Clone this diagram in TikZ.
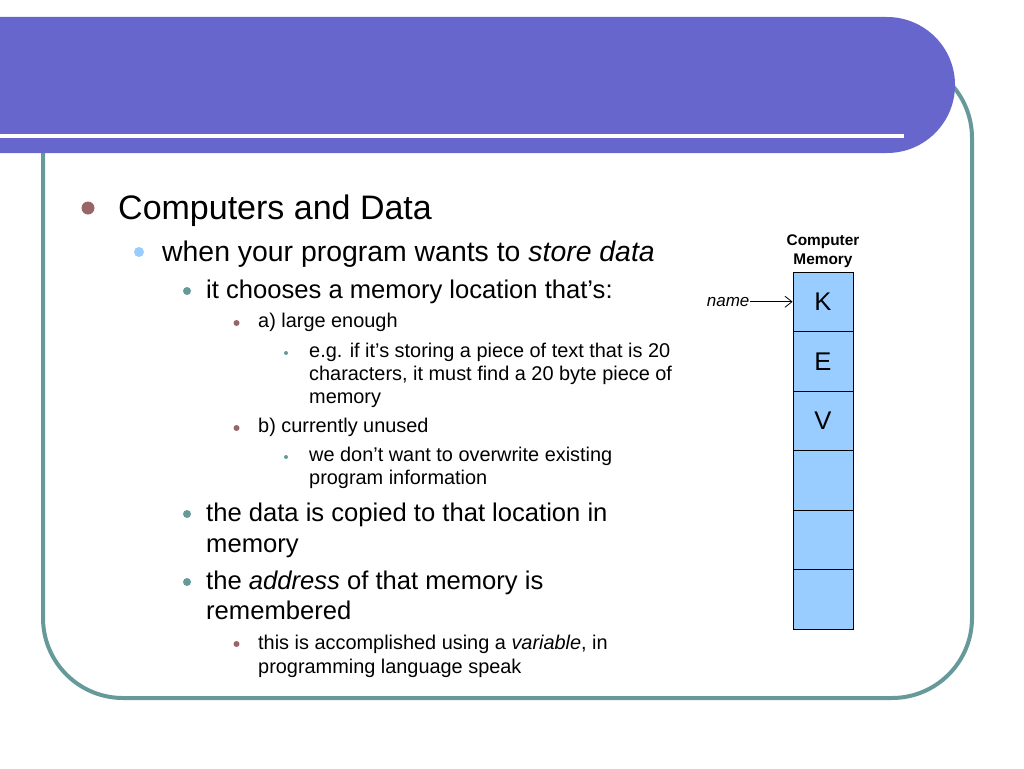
\documentclass[tikz,border=0pt]{standalone}
\usepackage{fontspec}
\setmainfont{Liberation Sans}
\usetikzlibrary{positioning,arrows.meta}
\definecolor{bannerblue}{HTML}{6666CC}
\definecolor{frameteal}{HTML}{669999}
\definecolor{dotbrown}{HTML}{996666}
\definecolor{cellblue}{HTML}{99CCFF}
\tikzset{
  lvlone/.style={anchor=base west,inner sep=0pt,font=\fontsize{34}{40}\selectfont},
  lvltwo/.style={anchor=base west,inner sep=0pt,font=\fontsize{28.4}{34}\selectfont},
  lvlthree/.style={anchor=base west,inner sep=0pt,font=\fontsize{25.6}{31}\selectfont},
  lvlfour/.style={anchor=base west,inner sep=0pt,font=\fontsize{19.9}{24}\selectfont},
  memcell/.style={draw=black,fill=cellblue,line width=0.8pt,minimum width=60pt,
    minimum height=59.5pt,inner sep=0pt,font=\fontsize{25.6}{30}\selectfont}
}
\begin{document}
\begin{tikzpicture}[x=1pt,y=-1pt]
\useasboundingbox (0,0) rectangle (1024,768);
\draw[frameteal,line width=4pt,rounded corners=80pt] (43,58) rectangle (972,698);
\fill[bannerblue,rounded corners=68pt] (-100,17) rectangle (955,153);
\draw[white,line width=4pt] (0,136) -- (904,136);
% bullets
\fill[dotbrown] (88,208) circle (6.5pt);
\fill[cellblue] (139,252) circle (5pt);
\fill[frameteal] (187,291) circle (4pt);
\fill[dotbrown] (236.5,323) circle (3pt);
\fill[frameteal] (286,353) circle (2pt);
\fill[dotbrown] (236.5,428) circle (3pt);
\fill[frameteal] (286,457) circle (2pt);
\fill[frameteal] (187,514) circle (4pt);
\fill[frameteal] (187,582) circle (4pt);
\fill[dotbrown] (236.5,644) circle (3pt);
% text
\node[lvlone] (comp) at (118,219) {Computers and Data};
\node[lvltwo] (store) at (162,261) {when your program wants to \textit{store data}};
\node[lvlthree] (choose) at (206,298) {it chooses a memory location that’s:};
\node[lvlfour] (large) at (258,327) {a) large enough};
\node[lvlfour] (egone) at (309,357) {e.g. if it’s storing a piece of text that is 20};
\node[lvlfour] (egtwo) at (309,380) {characters, it must find a 20 byte piece of};
\node[lvlfour] (egthree) at (309,403) {memory};
\node[lvlfour] (unused) at (258,432) {b) currently unused};
\node[lvlfour] (overone) at (309,461) {we don’t want to overwrite existing};
\node[lvlfour] (overtwo) at (309,484) {program information};
\node[lvlthree] (copyone) at (206,521) {the data is copied to that location in};
\node[lvlthree] (copytwo) at (206,552) {memory};
\node[lvlthree] (addrone) at (206,589) {the \textit{address} of that memory is};
\node[lvlthree] (addrtwo) at (206,619) {remembered};
\node[lvlfour] (varone) at (258,649) {this is accomplished using a \textit{variable}, in};
\node[lvlfour] (vartwo) at (258,673) {programming language speak};
% memory
\foreach \letter [count=\i] in {K,E,V,{},{},{}}
  \node[memcell] (cell\i) at (823,{242.25+59.5*\i}) {\letter};
\node[above=4pt of cell1,align=center,inner sep=0pt,
  font=\bfseries\fontsize{15.4}{18.5}\selectfont] (memtitle) {Computer\\Memory};
\node[left=43pt of cell1,inner sep=0pt,font=\itshape\fontsize{17}{20}\selectfont] (namelbl) {name};
\draw[-{Straight Barb[length=7pt,width=11pt]},line width=0.8pt] (namelbl) -- (cell1);
\end{tikzpicture}
\end{document}
